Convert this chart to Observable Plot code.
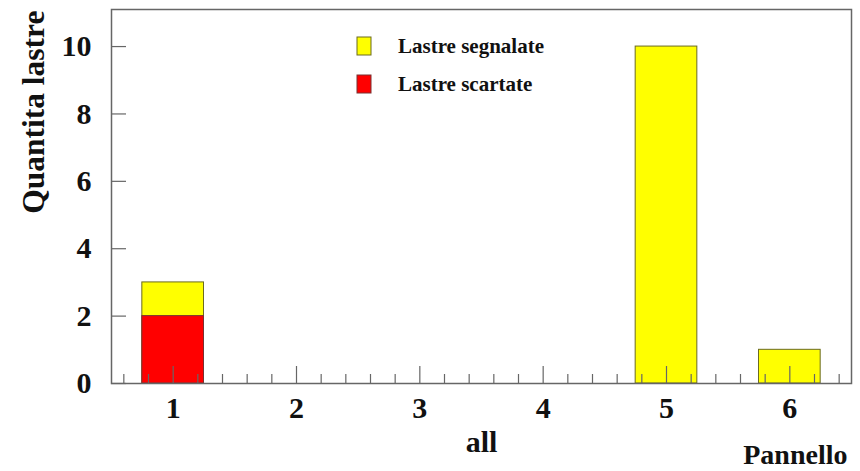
<!DOCTYPE html>
<html>
<head>
<meta charset="utf-8">
<script src="https://cdn.jsdelivr.net/npm/d3@7"></script>
<script src="https://cdn.jsdelivr.net/npm/@observablehq/plot@0.6"></script>
<style>
  html, body { margin: 0; padding: 0; background: #ffffff; }
  #chart { width: 860px; height: 471px; }
</style>
</head>
<body>
<div id="chart"></div>
<script>
// Number of plates per panel
const panels = [1, 2, 3, 4, 5, 6];
const segnalate = [3, 0, 0, 0, 10, 1];   // flagged plates
const scartate = [2, 0, 0, 0, 0, 0];     // discarded plates
const yTicks = [0, 2, 4, 6, 8, 10];
const seriesNames = ["Lastre segnalate", "Lastre scartate"];
const seriesColors = ["#ffff00", "#ff0000"];
const seriesStrokes = ["#6b6b20", "#7a3030"];
const xTitle = "all";
const xName = "Pannello";
const yTitle = "Quantita lastre";

const W = 860, H = 471;
const mL = 111, mR = 9, mT = 9, mB = 88;
const innerW = W - mL - mR, innerH = H - mT - mB;
const binHalf = 0.25;
const font = "'Liberation Serif', 'Times New Roman', serif";
const axisColor = "#666666";
const ink = "#111111";

const rowsOf = (vals) => panels.map((p, i) => ({panel: p, value: vals[i]})).filter(d => d.value > 0);
const yellowRows = rowsOf(segnalate);
const redRows = rowsOf(scartate);

// axis subdivisions: major at each panel, minor every fifth of a unit
const minorX = d3.range(0.6, 6.5, 0.2).map(v => Math.round(v * 10) / 10)
  .filter(v => Math.abs(v - Math.round(v)) > 1e-6);

const chart = Plot.plot({
  width: W,
  height: H,
  marginLeft: mL, marginRight: mR, marginTop: mT, marginBottom: mB,
  style: {fontFamily: font, background: "#ffffff", overflow: "visible"},
  x: {domain: [0.5, 6.5], axis: null},
  y: {domain: [0, 11.1], axis: null},
  marks: [
    Plot.rectY(yellowRows, {
      x1: d => d.panel - binHalf, x2: d => d.panel + binHalf, y: "value",
      fill: seriesColors[0], stroke: seriesStrokes[0], strokeWidth: 1
    }),
    Plot.rectY(redRows, {
      x1: d => d.panel - binHalf, x2: d => d.panel + binHalf, y: "value",
      fill: seriesColors[1], stroke: seriesStrokes[1], strokeWidth: 1
    }),
    Plot.frame({stroke: axisColor, strokeWidth: 1.5}),
    // inward tick marks
    Plot.ruleX(panels, {stroke: axisColor, strokeWidth: 1.2, insetTop: innerH - 17}),
    Plot.ruleX(minorX, {stroke: axisColor, strokeWidth: 1.2, insetTop: innerH - 9}),
    Plot.ruleY(yTicks, {stroke: axisColor, strokeWidth: 1.2, insetRight: innerW - 15}),
    // tick labels
    Plot.axisX(panels, {tickSize: 0, tickPadding: 13, fontSize: 30, fontWeight: "bold", fill: ink, label: null, tickFormat: d => String(d)}),
    Plot.axisY(yTicks, {tickSize: 0, tickPadding: 20, fontSize: 30, fontWeight: "bold", fill: ink, label: null, tickFormat: d => String(d)}),
    // axis titles
    Plot.text([xTitle], {text: d => d, frameAnchor: "bottom", dy: 68, lineAnchor: "bottom", fontSize: 30, fontWeight: "bold", fill: ink}),
    Plot.text([xName], {text: d => d, frameAnchor: "bottom-right", textAnchor: "end", dx: -4, dy: 80, lineAnchor: "bottom", fontSize: 28, fontWeight: "bold", fill: ink}),
    Plot.text([yTitle], {text: d => d, frameAnchor: "top-left", rotate: -90, textAnchor: "end", lineAnchor: "bottom", dx: -68, dy: 1, fontSize: 31.5, fontWeight: "bold", fill: ink})
  ]
});

document.getElementById("chart").appendChild(chart);

// legend drawn inside the plot area
const svg = d3.select(chart);
const legend = svg.append("g").attr("font-family", font).attr("text-anchor", "start");
seriesNames.forEach((name, i) => {
  const top = 37 + i * 38;
  legend.append("rect")
    .attr("x", 357).attr("y", top).attr("width", 14).attr("height", 18)
    .attr("fill", seriesColors[i]).attr("stroke", seriesStrokes[i]).attr("stroke-width", 1);
  legend.append("text")
    .attr("x", 398).attr("y", top + 16)
    .attr("text-anchor", "start")
    .attr("font-size", 21).attr("font-weight", "bold").attr("fill", ink)
    .text(name);
});
</script>
</body>
</html>
